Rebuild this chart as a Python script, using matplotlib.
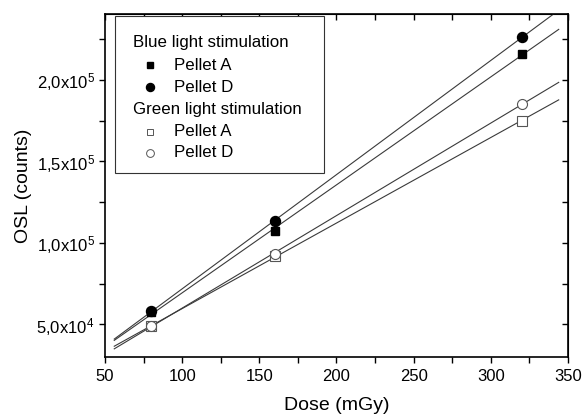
import numpy as np
import matplotlib.pyplot as plt
from matplotlib.ticker import FuncFormatter, MultipleLocator
from matplotlib.patches import Rectangle


# =====================================================
# DATA
# =====================================================

dose = [80, 160, 320]

blue_a = [57400, 107200, 215800]
blue_d = [58200, 113300, 226200]
green_a = [48800, 91800, 175000]
green_d = [49000, 93500, 185100]

fit_range = [56, 344]


# =====================================================
# STYLE
# =====================================================

plt.rcParams["font.family"] = ["Liberation Sans", "DejaVu Sans"]
plt.rcParams["mathtext.default"] = "regular"

fig = plt.figure(
    figsize=(5.82, 4.19),
    dpi=100
)

ax = fig.add_axes([0.1804, 0.1480, 0.7955, 0.8186])


# =====================================================
# FIT LINES + POINTS
# =====================================================

xfit = np.array(fit_range, dtype=float)

for series in [blue_a, blue_d, green_a, green_d]:
    slope, intercept = np.polyfit(dose, series, 1)
    ax.plot(
        xfit,
        slope * xfit + intercept,
        color="#3a3a3a",
        lw=0.8,
        zorder=2
    )

ax.plot(dose, blue_a, "s", ms=6.0, color="black", zorder=3)
ax.plot(dose, blue_d, "o", ms=7.2, color="black", zorder=3)
ax.plot(dose, green_a, "s", ms=6.5, mfc="white", mec="#555555",
        mew=0.8, zorder=3)
ax.plot(dose, green_d, "o", ms=7.2, mfc="white", mec="#555555",
        mew=0.8, zorder=3)


# =====================================================
# AXES
# =====================================================

ax.set_xlim(50, 350)
ax.set_ylim(30000, 240500)

ax.xaxis.set_major_locator(MultipleLocator(50))
ax.xaxis.set_minor_locator(MultipleLocator(25))
ax.yaxis.set_major_locator(MultipleLocator(50000))
ax.yaxis.set_minor_locator(MultipleLocator(25000))


def sci_comma(v, pos):
    if v == 0:
        return "0"
    exp = int(np.floor(np.log10(abs(v))))
    mant = v / 10 ** exp
    return f"{mant:.1f}".replace(".", ",") + "x10$^{" + str(exp) + "}$"


ax.yaxis.set_major_formatter(FuncFormatter(sci_comma))

ax.tick_params(which="both", direction="out", length=4, width=1,
               labelsize=12, top=False, right=False)
ax.tick_params(axis="x", pad=5)

# inward mirrored ticks on top and right
secx = ax.secondary_xaxis("top")
secx.xaxis.set_major_locator(MultipleLocator(50))
secx.xaxis.set_minor_locator(MultipleLocator(25))
secx.tick_params(which="both", direction="in", length=4, width=1,
                 labeltop=False)

secy = ax.secondary_yaxis("right")
secy.yaxis.set_major_locator(MultipleLocator(50000))
secy.yaxis.set_minor_locator(MultipleLocator(25000))
secy.tick_params(which="both", direction="in", length=4, width=1,
                 labelright=False)

for sp in ax.spines.values():
    sp.set_linewidth(1.2)

ax.set_xlabel("Dose (mGy)", fontsize=14, labelpad=9)
ax.set_ylabel("OSL (counts)", fontsize=14, labelpad=3)


# =====================================================
# LEGEND
# =====================================================

ax.add_patch(Rectangle(
    (0.0216, 0.536), 0.4514, 0.458,
    transform=ax.transAxes,
    facecolor="white",
    edgecolor="#333333",
    lw=0.8,
    zorder=4
))

rows = [
    (0.9155, "Blue light stimulation", None),
    (0.851, "Pellet A", dict(marker="s", ms=5.0, color="black")),
    (0.787, "Pellet D", dict(marker="o", ms=5.8, color="black")),
    (0.723, "Green light stimulation", None),
    (0.656, "Pellet A", dict(marker="s", ms=5.0, mfc="white",
                             mec="#555555", mew=0.7)),
    (0.595, "Pellet D", dict(marker="o", ms=5.6, mfc="white",
                             mec="#555555", mew=0.7)),
]

for y, label, style in rows:
    if style is None:
        ax.text(0.0605, y, label, transform=ax.transAxes,
                fontsize=12.2, va="center", ha="left", zorder=5)
    else:
        ax.plot([0.0972], [y], transform=ax.transAxes,
                linestyle="none", zorder=5, **style)
        ax.text(0.149, y, label, transform=ax.transAxes,
                fontsize=12.2, va="center", ha="left", zorder=5)

plt.savefig(
    "out.png",
    dpi=100
)

plt.close()
